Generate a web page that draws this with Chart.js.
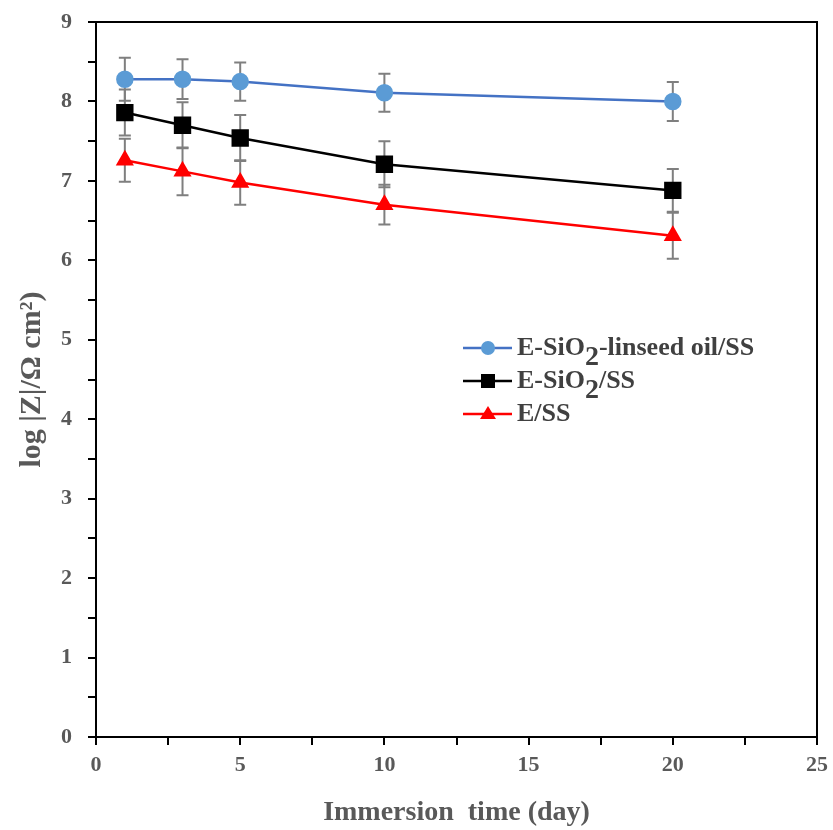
<!DOCTYPE html>
<html><head><meta charset="utf-8">
<script src="https://cdn.jsdelivr.net/npm/chart.js@4.4.1/dist/chart.umd.min.js"></script>
<style>html,body{margin:0;padding:0;background:#fff}#wrap{width:833px;height:830px}</style>
</head><body><div id="wrap"><canvas id="c" width="833" height="830"></canvas></div>
<script>
const days = [1, 3, 5, 10, 20];
const linseedVals = [8.28, 8.28, 8.25, 8.11, 8.00];
const linseedErr = [0.27, 0.25, 0.24, 0.24, 0.245];
const sio2Vals = [7.86, 7.70, 7.54, 7.21, 6.88];
const sio2Err = [0.29, 0.29, 0.29, 0.29, 0.27];
const eVals = [7.26, 7.12, 6.98, 6.70, 6.31];
const eErr = [0.27, 0.30, 0.28, 0.25, 0.29];
const seriesNames = ['E-SiO₂-linseed oil/SS', 'E-SiO₂/SS', 'E/SS'];

const FONT = '"Liberation Serif", "Times New Roman", serif';
const toPts = (v) => days.map((d, i) => ({x: d, y: v[i]}));

const errorBars = {
  id: 'errorBars',
  beforeDatasetsDraw(chart) {
    const {ctx, scales: {x, y}} = chart;
    ctx.save();
    ctx.strokeStyle = '#7f7f7f';
    ctx.lineWidth = 2;
    chart.data.datasets.forEach(ds => {
      ds.data.forEach((p, i) => {
        const e = ds.errors[i];
        const px = x.getPixelForValue(p.x);
        const t = y.getPixelForValue(p.y + e), b = y.getPixelForValue(p.y - e);
        ctx.beginPath();
        ctx.moveTo(px, t); ctx.lineTo(px, b);
        ctx.moveTo(px - 6, t); ctx.lineTo(px + 6, t);
        ctx.moveTo(px - 6, b); ctx.lineTo(px + 6, b);
        ctx.stroke();
      });
    });
    ctx.restore();
  },
  afterDraw(chart) {
    const {ctx, chartArea: a} = chart;
    ctx.save();
    ctx.strokeStyle = '#000'; ctx.lineWidth = 2;
    ctx.beginPath();
    ctx.moveTo(a.left, a.top); ctx.lineTo(a.right, a.top); ctx.lineTo(a.right, a.bottom);
    ctx.stroke();
    // legend
    const rows = [348, 381, 414];
    chart.data.datasets.forEach((ds, i) => {
      const yy = rows[i];
      ctx.strokeStyle = ds.borderColor; ctx.lineWidth = 2.5;
      ctx.beginPath(); ctx.moveTo(463, yy); ctx.lineTo(512, yy); ctx.stroke();
      ctx.fillStyle = ds.pointBackgroundColor;
      ctx.beginPath();
      if (ds.pointStyle === 'circle') { ctx.arc(488, yy, 7, 0, Math.PI * 2); }
      else if (ds.pointStyle === 'rect') { ctx.rect(481, yy - 7, 14, 14); }
      else { ctx.moveTo(488, yy - 8); ctx.lineTo(496, yy + 5); ctx.lineTo(480, yy + 5); ctx.closePath(); }
      ctx.fill();
      ctx.fillStyle = '#404040';
      ctx.textBaseline = 'middle';
      const name = ds.label;
      const k = name.indexOf('₂');
      let xx = 517;
      ctx.font = 'bold 26px ' + FONT;
      if (k < 0) { ctx.fillText(name, xx, yy); return; }
      const pre = name.slice(0, k), post = name.slice(k + 1);
      ctx.fillText(pre, xx, yy); xx += ctx.measureText(pre).width;
      ctx.font = 'bold 28px ' + FONT;
      ctx.fillText('2', xx, yy + 10); xx += ctx.measureText('2').width;
      ctx.font = 'bold 26px ' + FONT;
      ctx.fillText(post, xx, yy);
    });
    ctx.restore();
  }
};

new Chart(document.getElementById('c'), {
  type: 'line',
  data: {
    datasets: [
      {label: seriesNames[0], data: toPts(linseedVals), errors: linseedErr, borderColor: '#4472c4', pointBackgroundColor: '#5b9bd5', pointBorderColor: '#5b9bd5', pointStyle: 'circle', pointRadius: 7.5, borderWidth: 2.5},
      {label: seriesNames[1], data: toPts(sio2Vals), errors: sio2Err, borderColor: '#000000', pointBackgroundColor: '#000000', pointBorderColor: '#000000', pointStyle: 'rect', pointRadius: 10.5, borderWidth: 2.5},
      {label: seriesNames[2], data: toPts(eVals), errors: eErr, borderColor: '#ff0000', pointBackgroundColor: '#ff0000', pointBorderColor: '#ff0000', pointStyle: 'triangle', pointRadius: 8, borderWidth: 2.5}
    ]
  },
  options: {
    responsive: false, animation: false, devicePixelRatio: 1,
    layout: {padding: {top: 22, right: 16, left: 0, bottom: 0}},
    plugins: {legend: {display: false}, tooltip: {enabled: false}},
    scales: {
      x: {
        type: 'linear', min: 0, max: 25,
        afterFit(s) { s.height = 93; s.paddingLeft = 0; s.paddingRight = 0; },
        ticks: {stepSize: 2.5, autoSkip: false, maxRotation: 0, padding: 7, color: '#595959',
          font: {family: FONT, size: 22, weight: 'bold'},
          callback: v => (v % 5 === 0 ? String(v) : '')},
        grid: {drawOnChartArea: false, drawTicks: true, tickLength: 8, color: '#000', lineWidth: 2},
        border: {display: true, color: '#000', width: 2},
        title: {display: true, text: 'Immersion  time (day)', color: '#595959', padding: {top: 4, bottom: 0},
          font: {family: FONT, size: 28, weight: 'bold'}}
      },
      y: {
        type: 'linear', min: 0, max: 9,
        afterFit(s) { s.width = 96; s.paddingTop = 0; s.paddingBottom = 0; },
        ticks: {stepSize: 0.5, autoSkip: false, padding: 16, color: '#595959',
          font: {family: FONT, size: 22, weight: 'bold'},
          callback: v => (Number.isInteger(v) ? String(v) : '')},
        grid: {drawOnChartArea: false, drawTicks: true, tickLength: 8, color: '#000', lineWidth: 2},
        border: {display: true, color: '#000', width: 2},
        title: {display: true, text: 'log |Z|/Ω cm²)', color: '#595959', padding: {top: 14, bottom: 0},
          font: {family: FONT, size: 30, weight: 'bold'}}
      }
    }
  },
  plugins: [errorBars]
});
</script></body></html>
